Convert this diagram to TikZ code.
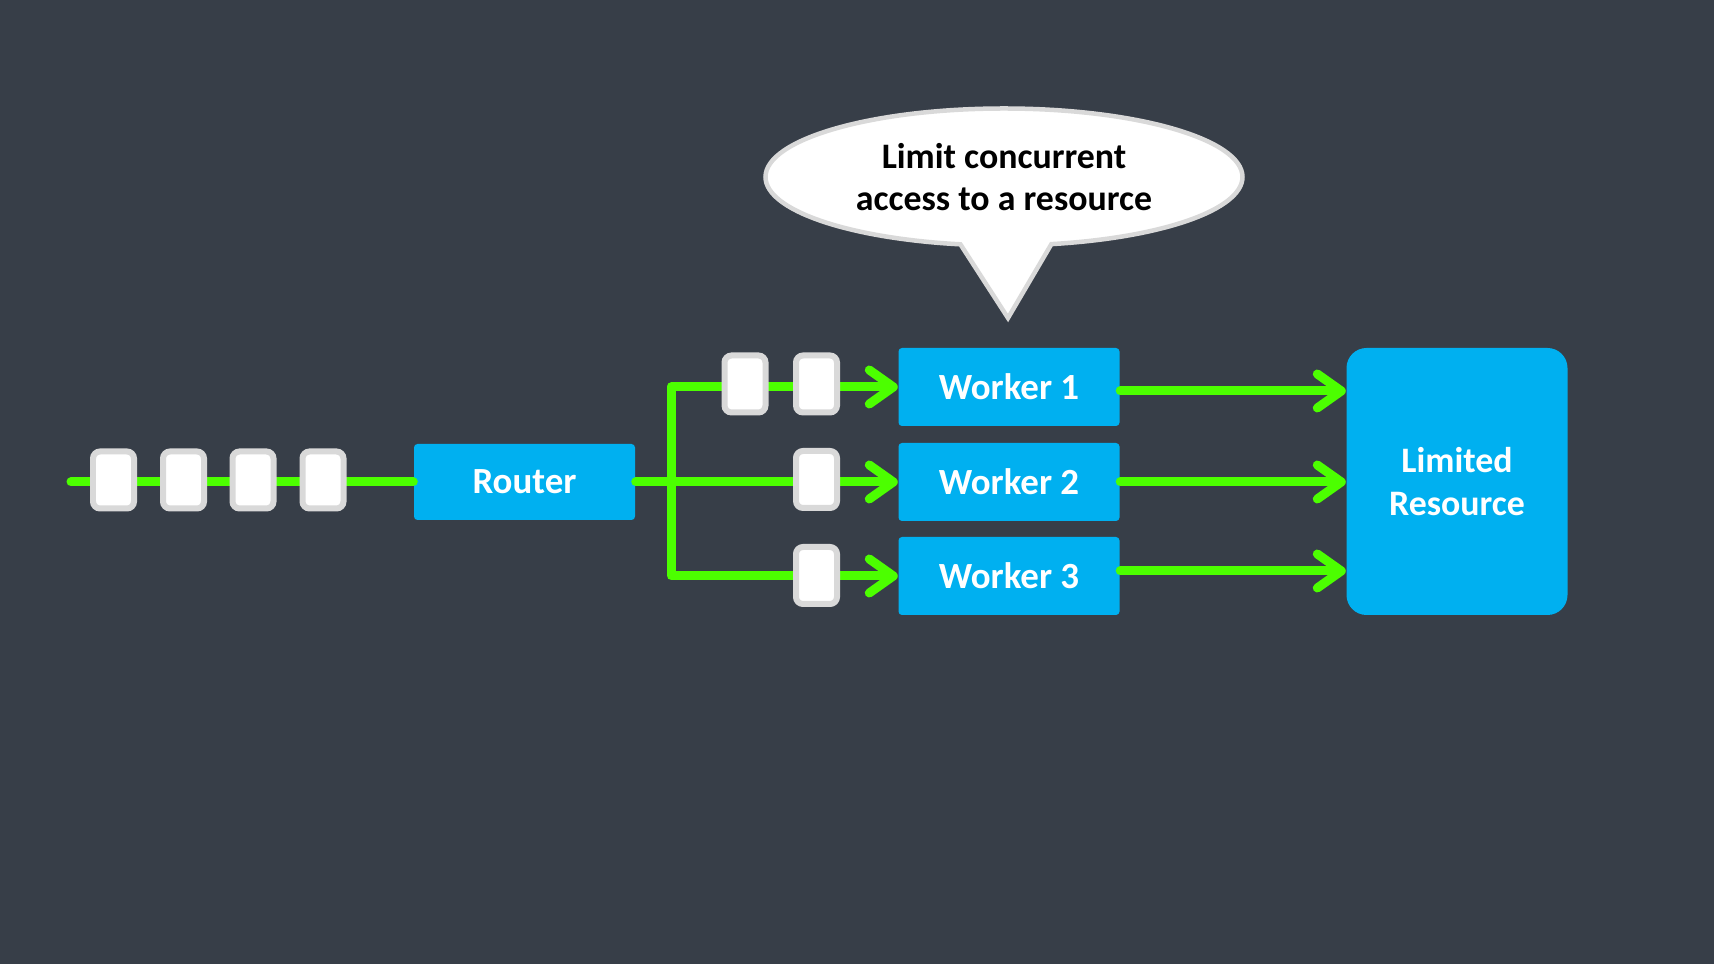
\documentclass[tikz,border=0pt]{standalone}
\usepackage{fontspec}
\setmainfont{Carlito}
\usetikzlibrary{arrows.meta,shapes.callouts}
\definecolor{bg}{HTML}{373E48}
\definecolor{boxblue}{HTML}{00B0F0}
\definecolor{flowgreen}{HTML}{4CFF00}
\definecolor{msggray}{HTML}{D9D9D9}

\begin{document}
\begin{tikzpicture}
		[Box/.style={rectangle,fill=boxblue,rounded corners=1pt,text=white,font=\bfseries\fontsize{10.5}{12}\selectfont,minimum width=2.21cm,minimum height=0.78cm,inner sep=0pt},
		Msg/.style={rectangle,draw=msggray,fill=white,line width=0.06cm,rounded corners=0.07cm,minimum width=0.41cm,minimum height=0.57cm,inner sep=0pt},
		Flow/.style={draw=flowgreen,line width=0.09cm,line cap=round,line join=round},
		Arr/.style={Flow,-{Straight Barb[length=0.24cm,width=0.34cm,round]}}]
		
		% 背景
		\fill[bg] (0,0) rectangle (17.14,9.64);
		\useasboundingbox (0,0) rectangle (17.14,9.64);
		
		% 路由结点
		\node[Box,minimum height=0.76cm] (router) at (5.245,4.82) {Router};
		
		% Worker 结点
		\foreach \y [count=\x] in {5.77,4.82,3.88}
		\node[Box] (w_\x) at (10.09,\y) {Worker \x};
		
		% 受限资源
		\node[Box,rounded corners=0.2cm,minimum height=2.67cm,align=center,
			font=\bfseries\fontsize{10.2}{12}\selectfont] (res) at (14.57,4.825) {Limited\\Resource};
		
		% 说明气泡
		\node[ellipse callout,draw=msggray,fill=white,line width=0.045cm,minimum width=4.77cm,minimum height=1.37cm,
			callout absolute pointer={(10.08,6.46)},callout pointer arc=22,align=center,
			font=\bfseries\fontsize{10.2}{12}\selectfont] (note) at (10.04,7.87) {Limit concurrent\\access to a resource};
		
		% 输入端和分叉点
		\coordinate (in) at (0.71,4.82);
		\coordinate (split) at (6.71,4.82);
		
		% 输入到路由的连线
		\draw[Flow] (in) -- (router);
		
		% 路由到各 Worker 的连线
		\draw[Arr] (router) -- (w_2);
		\draw[Arr] (split) |- (w_1);
		\draw[Arr] (split) |- (w_3);
		
		% Worker 到受限资源的连线
		\foreach \x/\s in {1/-0.04,2/0,3/0.05}
		{
			\coordinate (o_\x) at ([yshift=\s cm]w_\x.east);
			\draw[Arr] (o_\x) -- (o_\x -| res.west);
		}
		
		% 队列中的消息
		\foreach \x/\p in {1/1.135,2/1.835,3/2.53,4/3.23}
		\node[Msg] (q_\x) at (\p,4.84) {};
		\node[Msg] (a_1) at (7.45,5.80) {};
		\node[Msg] (a_2) at (8.165,5.80) {};
		\node[Msg] (b_1) at (8.165,4.845) {};
		\node[Msg] (c_1) at (8.165,3.885) {};
		
	\end{tikzpicture}
\end{document}
